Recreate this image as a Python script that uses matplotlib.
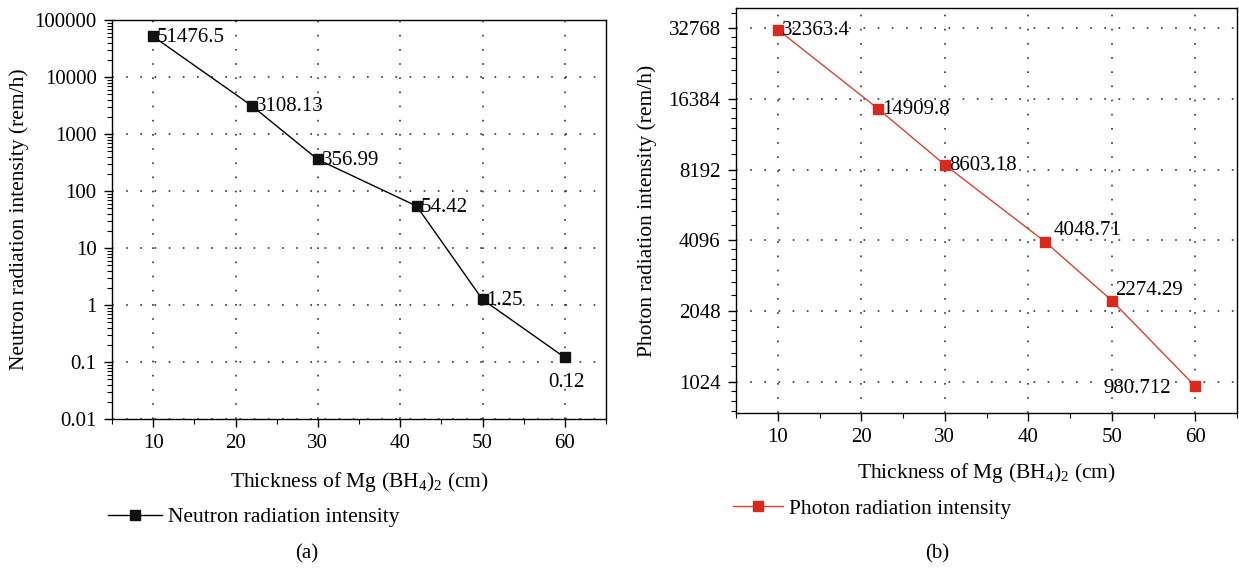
"""
Radiation intensity behind a Mg(BH4)2 shield
============================================

Two panels: (a) neutron and (b) photon radiation intensity against
shield thickness, both on log axes with the values printed at each point.
"""

# %% Imports

import matplotlib

matplotlib.use("Agg")
import matplotlib.pyplot as plt
from matplotlib.ticker import FixedLocator, FixedFormatter, LogLocator, MultipleLocator, NullFormatter

# %% Data

thickness_cm = [10, 22, 30, 42, 50, 60]

neutron_intensity = [51476.5, 3108.13, 356.99, 54.42, 1.25, 0.12]
neutron_labels = ["51476.5", "3108.13", "356.99", "54.42", "1.25", "0.12"]

photon_intensity = [32363.4, 14909.8, 8603.18, 4048.71, 2274.29, 980.712]
photon_labels = ["32363.4", "14909.8", "8603.18", "4048.71", "2274.29", "980.712"]

neutron_ticks = [0.01, 0.1, 1, 10, 100, 1000, 10000, 100000]
neutron_tick_labels = ["0.01", "0.1", "1", "10", "100", "1000", "10000", "100000"]

photon_ticks = [1024, 2048, 4096, 8192, 16384, 32768]
photon_tick_labels = ["1024", "2048", "4096", "8192", "16384", "32768"]

x_label = r"Thickness of Mg (BH$_4$)$_2$ (cm)"

# %% Style

plt.rcParams["font.family"] = ["Liberation Serif", "DejaVu Serif"]
plt.rcParams["mathtext.fontset"] = "custom"
plt.rcParams["mathtext.rm"] = "Liberation Serif"
plt.rcParams["mathtext.it"] = "Liberation Serif:italic"
plt.rcParams["mathtext.default"] = "regular"

FS = 15
W, H = 1239, 571
PX = 72 / 100  # points per pixel at dpi 100

RED_LINE = "#e2402f"
RED_MARK = "#d9291c"


def px_axes(fig, left, top, right, bottom):
    """Add axes from pixel edges measured top-down."""
    return fig.add_axes([left / W, 1 - bottom / H, (right - left) / W, (bottom - top) / H])


def style_axes(ax):
    for sp in ax.spines.values():
        sp.set_linewidth(1.0)
        sp.set_color("black")
    ax.set_xlim(5, 65)
    ax.xaxis.set_major_locator(MultipleLocator(10))
    ax.xaxis.set_minor_locator(MultipleLocator(5))
    ax.tick_params(which="major", direction="out", length=6, width=1.0, pad=5, labelsize=FS)
    ax.tick_params(which="minor", direction="out", length=3.5, width=0.8)
    ax.tick_params(top=False, right=False, which="both")
    ax.grid(True, which="major", color="0.2", linestyle=(0, (1, 7.5)), linewidth=1.2)
    ax.set_axisbelow(True)


def label_points(ax, xs, ys, texts, offsets):
    for x, y, t, (dx, dy, ha, va) in zip(xs, ys, texts, offsets):
        ax.annotate(t, (x, y), xytext=(dx * PX, dy * PX), textcoords="offset points",
                    ha=ha, va=va, fontsize=FS)


# %% Panels


def plot_neutron(fig):
    ax = px_axes(fig, 112, 20, 606, 419)
    style_axes(ax)
    ax.set_yscale("log")
    ax.set_ylim(0.01, 100000)
    ax.yaxis.set_major_locator(FixedLocator(neutron_ticks))
    ax.yaxis.set_major_formatter(FixedFormatter(neutron_tick_labels))
    ax.yaxis.set_minor_locator(LogLocator(base=10, subs=range(2, 10), numticks=20))
    ax.yaxis.set_minor_formatter(NullFormatter())

    ax.plot(thickness_cm, neutron_intensity, color="black", linewidth=1.0,
            marker="s", markersize=7, markerfacecolor="#111111", markeredgecolor="#111111",
            label="Neutron radiation intensity", clip_on=False)

    offsets = [(4, -1, "left", "center")] * 5 + [(2, -25, "center", "center")]
    label_points(ax, thickness_cm, neutron_intensity, neutron_labels, offsets)

    ax.set_xlabel(x_label, fontsize=FS + 0.5, labelpad=12)
    ax.set_ylabel("Neutron radiation intensity (rem/h)", fontsize=FS + 0.5, labelpad=4)

    ax.legend(loc="center left", bbox_to_anchor=(108 / W, 1 - 517 / H),
              bbox_transform=fig.transFigure, frameon=False, fontsize=FS + 0.5,
              handlelength=2.5, handletextpad=0.3, borderpad=0, borderaxespad=0)
    fig.text(307 / W, 1 - 554 / H, "(a)", ha="center", va="center", fontsize=FS)


def plot_photon(fig):
    ax = px_axes(fig, 736, 8, 1237, 413)
    style_axes(ax)
    ax.set_yscale("log", base=2)
    ax.set_ylim(755, 40000)
    ax.yaxis.set_major_locator(FixedLocator(photon_ticks))
    ax.yaxis.set_major_formatter(FixedFormatter(photon_tick_labels))
    ax.yaxis.set_minor_locator(LogLocator(base=2, subs=[7 / 6, 8 / 6, 9 / 6, 10 / 6, 11 / 6], numticks=30))
    ax.yaxis.set_minor_formatter(NullFormatter())

    ax.plot(thickness_cm, photon_intensity, color=RED_LINE, linewidth=1.0,
            marker="s", markersize=7, markerfacecolor=RED_MARK, markeredgecolor=RED_MARK,
            label="Photon radiation intensity", clip_on=False)

    offsets = [
        (4, -1, "left", "center"),
        (4, -1, "left", "center"),
        (4, -1, "left", "center"),
        (9, 11, "left", "center"),
        (3, 10, "left", "center"),
        (-24, -2, "right", "center"),
    ]
    label_points(ax, thickness_cm, photon_intensity, photon_labels, offsets)

    ax.set_xlabel(x_label, fontsize=FS + 0.5, labelpad=10)
    ax.set_ylabel("Photon radiation intensity (rem/h)", fontsize=FS + 0.5, labelpad=8)

    ax.legend(loc="center left", bbox_to_anchor=(733 / W, 1 - 509 / H),
              bbox_transform=fig.transFigure, frameon=False, fontsize=FS + 0.5,
              handlelength=2.3, handletextpad=0.3, borderpad=0, borderaxespad=0)
    fig.text(937 / W, 1 - 554 / H, "(b)", ha="center", va="center", fontsize=FS)


# %% Main


def main():
    fig = plt.figure(figsize=(W / 100, H / 100), dpi=100)
    plot_neutron(fig)
    plot_photon(fig)
    fig.savefig("out.png", dpi=100)
    plt.close(fig)


if __name__ == "__main__":
    main()
